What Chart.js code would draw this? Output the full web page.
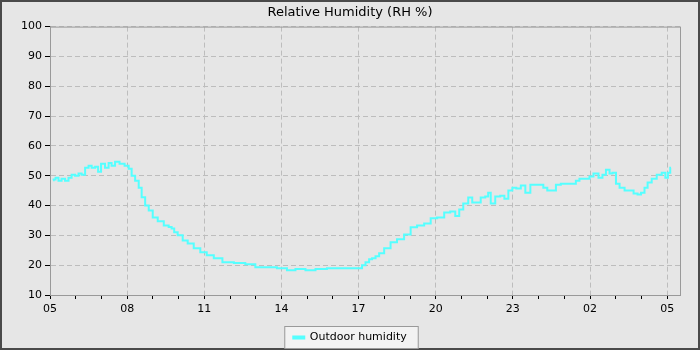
<!DOCTYPE html>
<html>
<head>
<meta charset="utf-8">
<script src="https://cdn.jsdelivr.net/npm/chart.js@4.4.1/dist/chart.umd.min.js"></script>
<style>
  body { margin: 0; background: #e6e6e6; }
  #wrap { width: 700px; height: 350px; }
</style>
</head>
<body>
<div id="wrap"><canvas id="rh-chart"></canvas></div>
<script>
// hours since 05:00 and relative humidity (%)
var hours = [0.12, 0.16, 0.27, 0.39, 0.51, 0.66, 0.78, 0.90, 1.05, 1.17, 1.29, 1.44, 1.56, 1.68, 1.83, 1.91,
  2.06, 2.22, 2.34, 2.45, 2.61, 2.80, 3.00, 3.12, 3.23, 3.39, 3.51, 3.62, 3.78, 3.90, 4.09, 4.29,
  4.56, 4.67, 4.79, 4.87, 5.06, 5.26, 5.45, 5.73, 5.96, 6.23, 6.51, 6.90, 7.40, 7.79, 8.18, 8.57,
  9.08, 9.35, 9.74, 10.13, 10.52, 11.02, 11.49, 11.88, 12.08, 12.19, 12.35, 12.47, 12.58, 12.74, 12.86, 13.13,
  13.36, 13.63, 13.91, 14.14, 14.41, 14.69, 14.92, 15.19, 15.47, 15.66, 15.86, 15.97, 16.17, 16.36, 16.48, 16.67,
  16.83, 17.02, 17.06, 17.22, 17.41, 17.61, 17.73, 17.92, 18.04, 18.23, 18.39, 18.58, 18.78, 19.09, 19.28, 19.40,
  19.60, 19.75, 19.98, 20.37, 20.53, 20.65, 20.92, 21.04, 21.23, 21.43, 21.54, 21.70, 21.82, 21.93, 22.09, 22.21,
  22.48, 22.60, 22.79, 22.91, 23.06, 23.18, 23.30, 23.50, 23.69, 23.89, 23.97, 24.09, 24.15];
var humidity = [48.5, 48.7, 49.3, 48.3, 49, 48.3, 49.3, 50.3, 50, 50.7, 50.3, 52.7, 53.3, 52.7, 53, 51.3,
  54, 52.7, 54.3, 53.3, 54.7, 54, 53.3, 52.3, 50, 48.3, 46, 42.8, 40, 38.3, 36, 34.7,
  33.3, 32.8, 32.3, 31, 30, 28.3, 27.3, 25.7, 24.3, 23.3, 22.3, 21, 20.7, 20.3, 19.3, 19.3,
  19, 18.3, 18.7, 18.3, 18.7, 19, 19, 19, 19, 20, 21, 22, 22.3, 23, 24, 25.7,
  27.7, 28.7, 30.3, 32.7, 33.3, 34, 35.7, 36, 37.7, 38, 36.5, 38.7, 40.7, 42.7, 41, 41,
  42.7, 43, 44.3, 40.7, 43, 43.3, 42.3, 45, 46, 45.7, 46.7, 44.3, 47, 47, 46, 45,
  45, 47, 47.3, 47.3, 48.3, 49, 49, 49.7, 50.7, 49.3, 50.3, 52, 50.7, 51, 47.3, 46,
  45, 45, 44, 43.7, 44.3, 46, 47.7, 49, 50.3, 51, 49.3, 51, 52.7];
var tickLabels = ['05', '08', '11', '14', '17', '20', '23', '02', '05'];

var points = hours.map(function (h, i) { return {x: h, y: humidity[i]}; });

var frame = {
  id: 'frame',
  beforeDraw: function (chart) {
    var c = chart.ctx;
    c.save();
    c.fillStyle = '#4a4a4a';
    c.fillRect(0, 0, chart.width, chart.height);
    c.fillStyle = '#e6e6e6';
    c.fillRect(2, 2, chart.width - 4, chart.height - 4);
    // legend box
    var hb = chart.legend.legendHitBoxes[0];
    if (hb) {
      var cy = Math.round(hb.top + hb.height / 2);
      c.fillStyle = '#f2f2f2';
      c.fillRect(hb.left - 8, cy - 11, hb.width + 19, 22);
      c.strokeStyle = '#999';
      c.lineWidth = 1;
      c.strokeRect(hb.left - 8.5, cy - 11.5, hb.width + 20, 22);
    }
    c.restore();
  },
  beforeDatasetsDraw: function (chart) {
    var a = chart.chartArea, c = chart.ctx;
    c.save();
    c.strokeStyle = '#999';
    c.lineWidth = 1;
    c.strokeRect(a.left + 0.5, a.top + 0.5, a.right - a.left, a.bottom - a.top);
    c.restore();
  }
};

var ctx = document.getElementById('rh-chart');

var config = {
  type: 'line',
  data: {
    datasets: [{
      label: 'Outdoor humidity',
      data: points,
      borderColor: '#55ffff',
      backgroundColor: '#55ffff',
      borderWidth: 2,
      pointRadius: 0,
      stepped: 'middle',
      fill: false
    }]
  },
  options: {
    responsive: true,
    maintainAspectRatio: false,
    animation: false,
    layout: { padding: { left: 20, right: 20, top: 3, bottom: -3 } },
    plugins: {
      title: {
        display: true,
        text: 'Relative Humidity (RH %)',
        color: '#000',
        font: { family: 'DejaVu Sans', size: 13, weight: 'normal' },
        padding: { top: 2, bottom: 6 }
      },
      legend: {
        position: 'bottom',
        labels: {
          color: '#000',
          font: { family: 'DejaVu Sans', size: 11 },
          boxWidth: 11,
          boxHeight: 2,
          padding: 6
        }
      },
      tooltip: { enabled: false }
    },
    scales: {
      x: {
        type: 'linear',
        min: 0,
        max: 24.5,
        afterFit: function (s) { s.height = 31; },
        afterBuildTicks: function (s) {
          var t = [];
          for (var h = 0; h <= 24; h++) t.push({ value: h });
          s.ticks = t;
        },
        border: { color: '#999', dash: [5, 3] },
        grid: {
          color: function (c) { return c.tick && c.tick.value % 3 === 0 ? '#bdbdbd' : 'rgba(0,0,0,0)'; },
          tickColor: '#000',
          tickLength: 4
        },
        ticks: {
          autoSkip: false,
          maxRotation: 0,
          padding: 4,
          color: '#000',
          font: { family: 'DejaVu Sans', size: 11 },
          callback: function (v) { return v % 3 === 0 ? tickLabels[v / 3] : ''; }
        }
      },
      y: {
        min: 10,
        max: 100,
        afterFit: function (s) { s.width = 30; },
        border: { color: '#999', dash: [5, 3] },
        grid: { color: '#bdbdbd', tickColor: '#000', tickLength: 5 },
        ticks: {
          stepSize: 10,
          padding: 3,
          color: '#000',
          font: { family: 'DejaVu Sans', size: 11 }
        }
      }
    }
  },
  plugins: [frame]
};

var rhChart = new Chart(ctx, config);
</script>
</body>
</html>
